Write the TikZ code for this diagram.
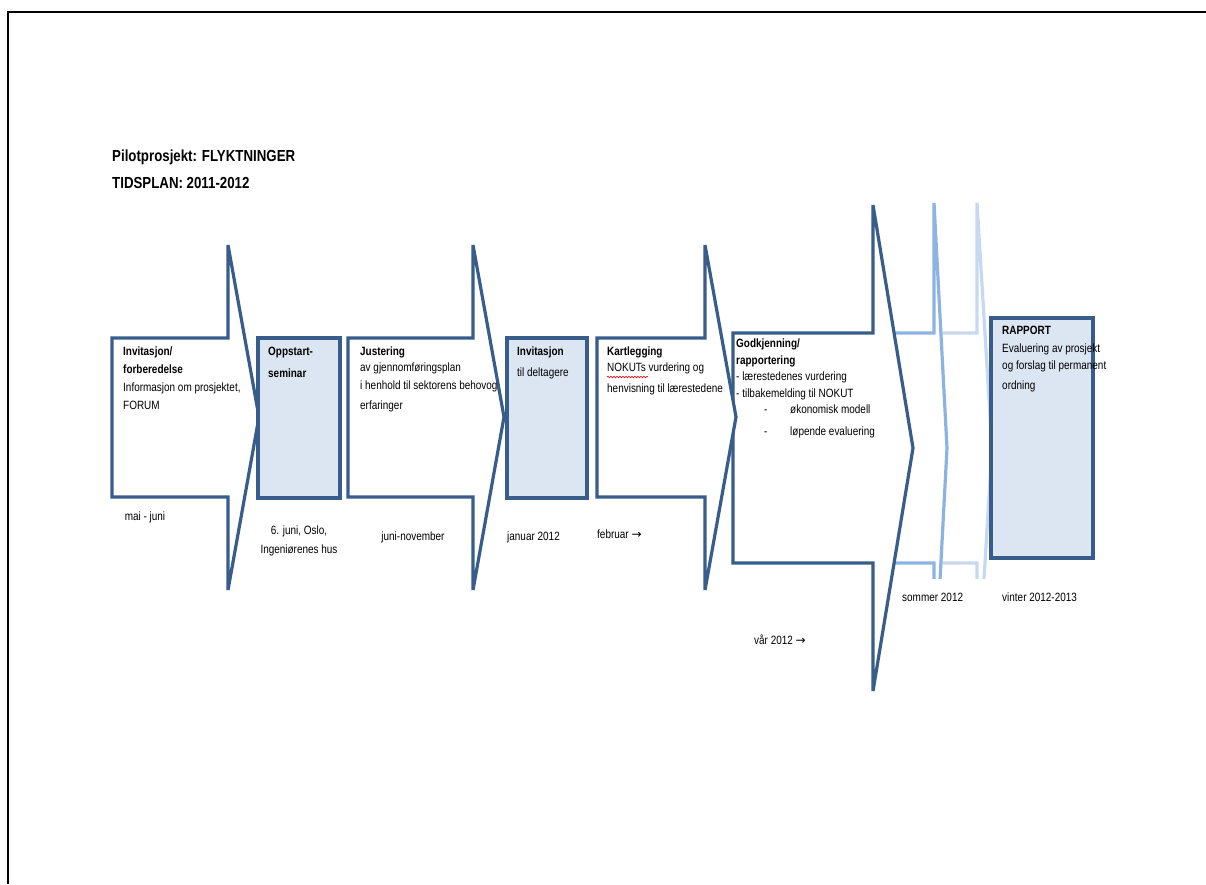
\documentclass[tikz,border=0pt]{standalone}
\usepackage{fontspec}
\setmainfont{Liberation Sans}[FakeStretch=0.83]
\newfontfamily\symfont{DejaVu Sans}
\usetikzlibrary{positioning,decorations.pathmorphing}
\definecolor{darkblue}{HTML}{385D8A}
\definecolor{boxblue}{HTML}{DCE6F2}
\definecolor{midblue}{HTML}{8DB3E2}
\definecolor{paleblue}{HTML}{C6D9F1}
\begin{document}
\begin{tikzpicture}[x=1pt, y=-1pt,
  arrowshape/.style = {draw=darkblue, line width=3.2pt, fill=white},
  stepbox/.style = {draw=darkblue, line width=3.2pt, fill=boxblue},
  lbl/.style = {inner sep=0, anchor=north west, align=left, font=\fontsize{12}{18}\selectfont},
  datelbl/.style = {inner sep=0, align=center, font=\fontsize{12}{19}\selectfont}]
\useasboundingbox (0,0) rectangle (1206,884);
\draw[line width=2pt] (8,884) -- (8,12) -- (1206,12);

\node[inner sep=0, anchor=west, font=\fontsize{16}{19}\selectfont\bfseries] (title) at (112,157) {Pilotprosjekt: FLYKTNINGER};
\node[inner sep=0, anchor=west, font=\fontsize{16}{19}\selectfont\bfseries] (plan) at (112,183) {TIDSPLAN: 2011-2012};

\begin{scope}
\clip (850,180) rectangle (1000,578);
\draw[arrowshape, draw=paleblue] (938,333) -- (977,333) -- (977,203) -- (992,448) -- (977,693) -- (977,563) -- (938,563) -- cycle;
\draw[arrowshape, draw=midblue] (880,333) -- (934,333) -- (934,203) -- (947,448) -- (934,693) -- (934,563) -- (880,563) -- cycle;
\end{scope}
\draw[arrowshape] (733,333) -- (873,333) -- (873,205) -- (913,448) -- (873,691) -- (873,563) -- (733,563) -- cycle;
\foreach \l/\h in {112/228, 348/473, 597/705}
  \draw[arrowshape] (\l,338) -- (\h,338) -- (\h,245) -- ({\h+31},417) -- (\h,590) -- (\h,497) -- (\l,497) -- cycle;

\draw[stepbox] (258,338) rectangle (340,498);
\draw[stepbox] (507,338) rectangle (587,498);
\draw[stepbox] (991,318) rectangle (1093,558);

\node[lbl] (invtext) at (123,347) {\textbf{Invitasjon/}\\\textbf{forberedelse}\\Informasjon om prosjektet,\\FORUM};
\node[lbl] (seminartext) at (268,347) {\textbf{Oppstart-}\\[4pt]\textbf{seminar}};
\node[lbl] (justtext) at (360,347) {\textbf{Justering}\\[-2pt]av gjennomføringsplan\\i henhold til sektorens behovog\\[2pt]erfaringer};
\node[lbl] (deltext) at (517,347) {\textbf{Invitasjon}\\[3pt]til deltagere};
\node[lbl] (karttext) at (607,347) {\textbf{Kartlegging}\\[-2pt]NOKUTs vurdering og\\[3pt]henvisning til lærestedene};
\node[lbl, font=\fontsize{12}{16.5}\selectfont] (godktext) at (736,339) {\textbf{Godkjenning/}\\\textbf{rapportering}\\- lærestedenes vurdering\\- tilbakemelding til NOKUT\\\hspace*{28pt}\makebox[26pt][l]{-}økonomisk modell\\[5pt]\hspace*{28pt}\makebox[26pt][l]{-}løpende evaluering};
\node[lbl] (rapptext) at (1002,326) {\textbf{RAPPORT}\\Evaluering av prosjekt\\[-1pt]og forslag til permanent\\[2pt]ordning};
\draw[red, line width=0.6pt, decorate, decoration={snake, amplitude=0.8pt, segment length=3pt}] (607,377) -- (648,377);

\node[datelbl] (maijuni) at (145,517) {mai - juni};
\node[datelbl] (oslo) at (299,541) {6. juni, Oslo,\\Ingeniørenes hus};
\node[datelbl] (juninov) at (413,537) {juni-november};
\node[datelbl, anchor=west] (januar) at (507,537) {januar 2012};
\node[datelbl, anchor=west] (februar) at (597,534) {februar {\symfont →}};
\node[datelbl, anchor=west] (vaar) at (754,640) {vår 2012 {\symfont →}};
\node[datelbl, anchor=west] (sommer) at (902,597) {sommer 2012};
\node[datelbl, anchor=west] (vinter) at (1002,597) {vinter 2012-2013};
\end{tikzpicture}
\end{document}
